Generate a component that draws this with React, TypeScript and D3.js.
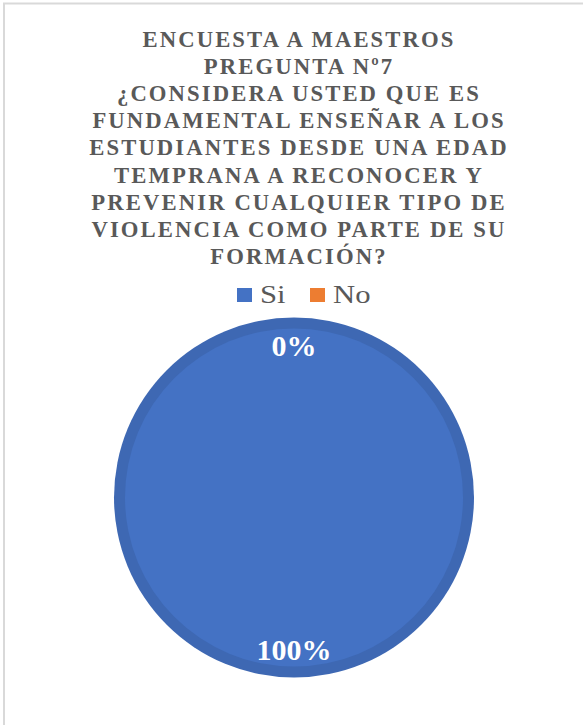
import React from "react";
import * as d3 from "d3";

const titleLines = [
  "ENCUESTA A MAESTROS",
  "PREGUNTA Nº7",
  "¿CONSIDERA USTED QUE ES",
  "FUNDAMENTAL ENSEÑAR A LOS",
  "ESTUDIANTES DESDE UNA EDAD",
  "TEMPRANA A RECONOCER Y",
  "PREVENIR CUALQUIER TIPO DE",
  "VIOLENCIA COMO PARTE DE SU",
  "FORMACIÓN?",
];
const categories = ["Si", "No"];
const values = [100, 0];
const colors = ["#4472C4", "#ED7D31"];

const W = 583;
const H = 725;
const SERIF = "Liberation Serif, Tinos, DejaVu Serif, serif";

export default function App() {
  const cx = 294;
  const cy = 497.5;
  const r = 180;
  const ring = 11;
  const data = categories.map((c, i) => ({ c, v: values[i], color: colors[i] }));
  const pie = d3.pie<any>().value((d) => d.v).sort(null);
  const arcs = pie(data);
  const outer = d3.arc<any>().innerRadius(0).outerRadius(r);
  const inner = d3.arc<any>().innerRadius(0).outerRadius(r - ring);
  const labelArc = d3.arc<any>().innerRadius(152).outerRadius(152);
  const total = d3.sum(values);
  const pct = d3.format(".0%");

  return (
    <svg
      width={W}
      height={H}
      style={{ position: "absolute", left: 0, top: 0, background: "#fff" }}
    >
      <rect x={4} y={3.5} width={700} height={800} fill="#fff" stroke="#d9d9d9" strokeWidth={2} />
      <g style={{ fontFamily: SERIF }} fill="#595959">
        {titleLines.map((t, i) => (
          <text
            key={i}
            x={299}
            y={47 + i * 27.1}
            textAnchor="middle"
            fontWeight="bold"
            fontSize={22.7}
            letterSpacing={2.1}
          >
            {t}
          </text>
        ))}
      </g>
      <g style={{ fontFamily: SERIF }} fontSize={26} fill="#595959">
        {categories.map((c, i) => {
          const x0 = [237, 310][i];
          return (
            <g key={c}>
              <rect x={x0} y={288} width={15} height={14} fill={colors[i]} />
              <text transform={`translate(${x0 + 23},302.5) scale(1.18,1)`}>{c}</text>
            </g>
          );
        })}
      </g>
      <g transform={`translate(${cx},${cy})`}>
        {arcs.map((a, i) => (
          <g key={i}>
            <path d={outer(a) || ""} fill={d3.color(a.data.color)!.darker(0.25).toString()} />
            <path d={inner(a) || ""} fill={a.data.color} />
          </g>
        ))}
        {arcs.map((a, i) => {
          const [lx, ly] = labelArc.centroid(a);
          return (
            <text
              key={"l" + i}
              x={lx}
              y={ly}
              textAnchor="middle"
              dominantBaseline="central"
              fill="#fff"
              fontWeight="bold"
              fontSize={30}
              style={{ fontFamily: SERIF }}
            >
              {pct(a.data.v / total)}
            </text>
          );
        })}
      </g>
    </svg>
  );
}
